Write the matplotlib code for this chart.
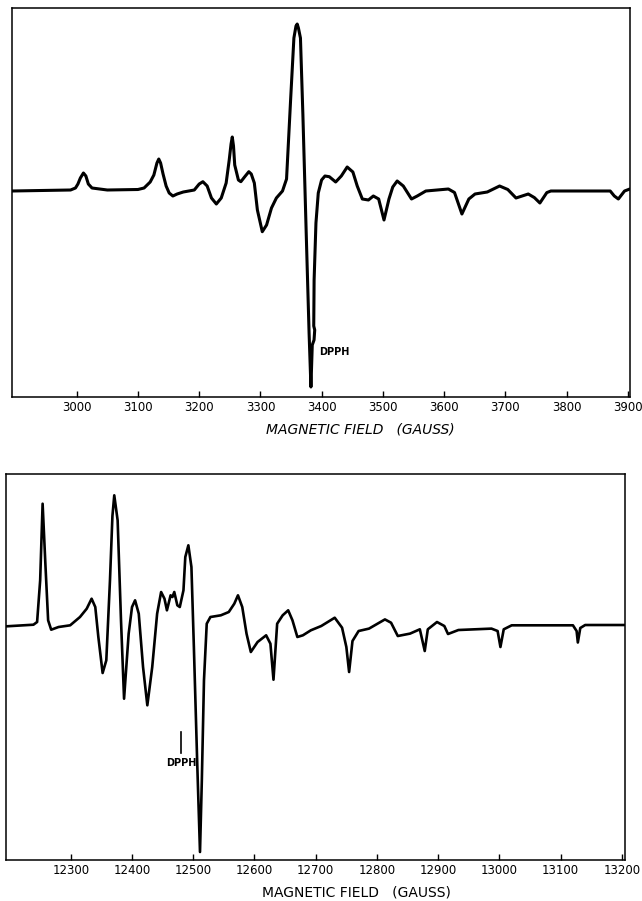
import matplotlib as mpl
mpl.use('Agg')
import matplotlib.pyplot as plt

# upper trace: field (G) and signal (arb. units)
field_top = [2894, 2990, 2998, 3002, 3006, 3011, 3015, 3019, 3025, 3050, 3100, 3110,
             3120, 3126, 3131, 3134, 3137, 3141, 3146, 3151, 3157, 3164, 3174, 3192,
             3200, 3206, 3213, 3220, 3228, 3236, 3244, 3249, 3252, 3254, 3256, 3258,
             3264, 3268, 3274, 3281, 3285, 3290, 3295, 3303, 3310, 3318, 3326, 3336,
             3342.6, 3349.3, 3354.6, 3358, 3360, 3362, 3365.3, 3369.3, 3374.7, 3379.4,
             3382.4, 3384.6, 3387.5, 3388.6, 3387, 3387.6, 3390.6, 3394.4, 3399.8,
             3405.3, 3412.4, 3422.8, 3432, 3441.6, 3450.9, 3458, 3466.3, 3476.3,
             3484.3, 3493, 3501.7, 3509.8, 3516, 3523.2, 3533.2, 3546.6, 3556, 3570,
             3606.8, 3616.8, 3628.9, 3640.2, 3650.3, 3670.3, 3690.4, 3703.8, 3717.2,
             3737.2, 3747.2, 3756.2, 3767.5, 3774.1, 3871, 3877.7, 3884.3, 3894.4, 3903]
signal_top = [-1, 0, 2, 6, 12, 17, 14, 6, 2, 0, 0.5, 2,
              8, 15, 27, 31, 27, 16, 4, -3, -6, -4, -2, 0,
              6, 8.3, 4, -8, -14, -8, 7, 30, 46, 53, 44, 25,
              10, 8.3, 13, 18.3, 16, 7, -20, -41.7, -35, -18, -8, -1,
              11, 91, 152, 164, 166, 162, 152, 75, -43, -143,
              -197, -155, -150, -140, -136, -90, -33, -3, 10,
              14, 13.3, 8, 14, 23, 18, 4, -9, -10,
              -6, -9, -30, -9, 3, 9, 4, -9, -6, -1,
              1, -2.5, -24, -9, -4, -2, 4, 0.5, -8,
              -4, -7.6, -13, -2.6, -1, -1, -6, -9, -1, 1]

# lower trace
field_bot = [12195, 12239, 12245, 12250, 12254, 12258.5, 12263, 12268, 12280, 12299,
             12315, 12326, 12334, 12340, 12345, 12352, 12358, 12364, 12368, 12371,
             12376.5, 12382, 12387, 12394.5, 12400, 12405, 12411, 12418, 12425, 12433,
             12441, 12447.5, 12453, 12457, 12463, 12466, 12469, 12474, 12478, 12484,
             12487, 12492, 12497, 12501, 12506.5, 12511, 12514, 12517.5, 12522, 12528,
             12545, 12558, 12567, 12573, 12580, 12587, 12594, 12605, 12619, 12626,
             12631, 12637, 12646, 12655, 12662, 12670, 12679, 12692, 12709, 12731,
             12743, 12750, 12754.5, 12760, 12770, 12787, 12813, 12823, 12834, 12854,
             12870, 12878, 12883, 12898, 12910, 12916, 12933, 12987, 12997, 13001.6,
             13007, 13020, 13120, 13126, 13128, 13132, 13140, 13204]
signal_bot = [-0.3, 1.3, 4, 45.7, 122.3, 62.3, 5.7, -3.7, -1, 0.7,
              9, 17.3, 27.3, 19, -11, -47, -34.3, 45.7, 110, 130.7,
              105.7, 5.7, -72.7, -7.7, 19, 25.7, 12.3, -41, -79.3, -41,
              12.3, 34, 27.3, 15.7, 30.7, 29, 34, 20.7, 19, 35.7,
              69, 80.7, 59, -21, -137.7, -226, -154.3, -54.3, 2.3, 9,
              10.7, 14, 22.3, 30.7, 19, -7.7, -26, -16, -9.3, -17.7,
              -53.7, 2.3, 10.7, 15.7, 5.7, -11, -9.3, -4.3, 0, 8.3,
              -1.7, -21, -46, -15, -5, -2.6, 6.6, 3.3, -10, -7.6,
              -3.3, -25, -3.3, 4, 0, -8, -4, -2.6, -5, -21,
              -3.3, 0.7, 0.7, -5, -16.5, -2, 1, 1]

ticks_top = [3000, 3100, 3200, 3300, 3400, 3500, 3600, 3700, 3800, 3900]
ticks_bot = [12300, 12400, 12500, 12600, 12700, 12800, 12900, 13000, 13100, 13200]

fig = plt.figure(figsize=(6.42, 9.01), dpi=100)

ax1 = fig.add_axes([0.0187, 0.5594, 0.9626, 0.4317])
ax1.plot(field_top, signal_top, color='black', lw=2.2,
         solid_joinstyle='round', solid_capstyle='round')
ax1.set_xlim(2894.4, 3903.3)
ax1.set_ylim(-207, 182)
ax1.set_xticks(ticks_top)
ax1.set_yticks([])
ax1.tick_params(axis='x', direction='in', length=4, width=1, pad=3, labelsize=8.5)
ax1.text(3395, -162, 'DPPH', fontsize=7, fontweight='bold', ha='left', va='center')
fig.text(360 / 642, 1 - 430 / 901, 'MAGNETIC FIELD   (GAUSS)', fontsize=10,
         style='italic', ha='center', va='center')

ax2 = fig.add_axes([0.0101, 0.0455, 0.9634, 0.4284])
ax2.plot(field_bot, signal_bot, color='black', lw=1.9,
         solid_joinstyle='round', solid_capstyle='round')
ax2.set_xlim(12195, 13205)
ax2.set_ylim(-234, 152)
ax2.set_xticks(ticks_bot)
ax2.set_yticks([])
ax2.tick_params(axis='x', direction='in', length=4, width=1, pad=3, labelsize=8.5)
ax2.plot([12480, 12480], [-106, -127], color='black', lw=1.2)
ax2.text(12481, -137, 'DPPH', fontsize=7, fontweight='bold', ha='center', va='center')
fig.text(356 / 642, 1 - 893 / 901, 'MAGNETIC FIELD   (GAUSS)', fontsize=10,
         ha='center', va='center')

for ax in (ax1, ax2):
    for s in ax.spines.values():
        s.set_linewidth(1.1)

plt.savefig('out.png', dpi=100)
